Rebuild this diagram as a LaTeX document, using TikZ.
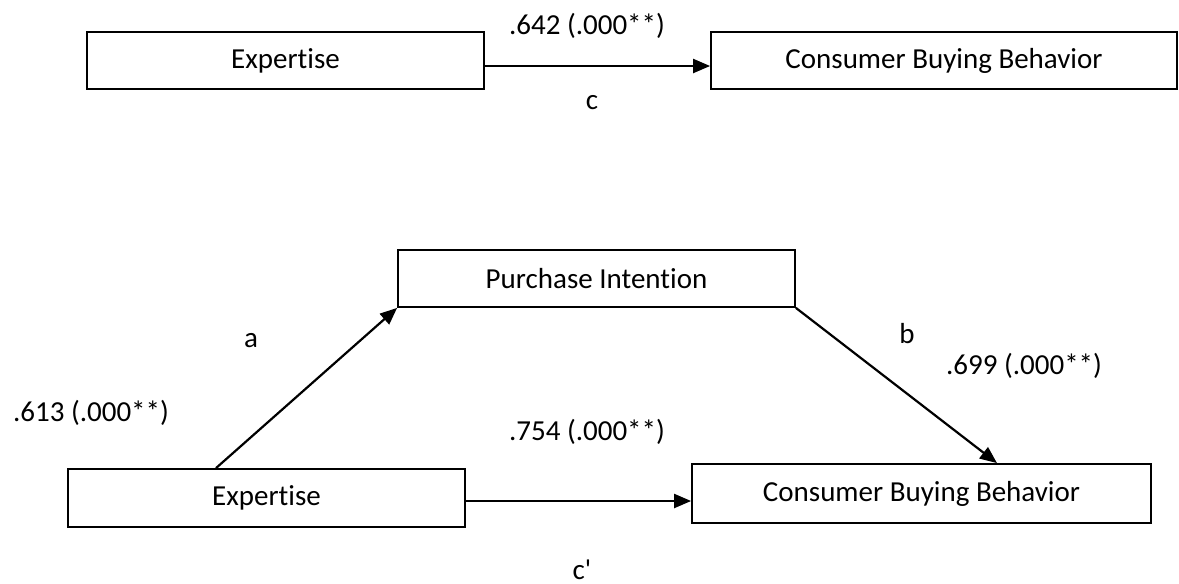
\documentclass[tikz,border=0pt]{standalone}
\usepackage{fontspec}
\setmainfont{Carlito}[Ligatures={TeXOff,NoCommon}]
\usetikzlibrary{arrows.meta}
\begin{document}
\begin{tikzpicture}[x=0.5pt,y=-0.5pt,
  box/.style={draw,line width=0.9pt,inner sep=0pt,font=\fontsize{14.5}{17}\selectfont},
  lab/.style={inner sep=0pt,font=\fontsize{14.5}{17}\selectfont},
  link/.style={line width=1.1pt,-{Triangle[length=8.5pt,width=7pt]}}]
\useasboundingbox (0,0) rectangle (1179,584);

% total effect
\node[box,minimum width=198.5pt,minimum height=28.5pt] (e1) at (285.5,60.5) {Expertise};
\node[box,minimum width=233pt,minimum height=28.5pt] (c1) at (944,60.5) {Consumer Buying Behavior};
\draw[link] ([yshift=-2.75pt]e1.east) -- ([yshift=-2.75pt]c1.west);
\node[lab] (l642) at (587,26) {.642 (.000**)};
\node[lab] (lc) at (592,103) {c};

% mediation model
\node[box,minimum width=198.5pt,minimum height=28.5pt] (pi) at (596.5,278.5) {Purchase Intention};
\node[box,minimum width=198.5pt,minimum height=29pt] (e2) at (266.5,498) {Expertise};
\node[box,minimum width=229.5pt,minimum height=29.5pt] (c2) at (921.5,493.5) {Consumer Buying Behavior};

\draw[link] ([xshift=-25.25pt]e2.north) -- (pi.south west);
\draw[link] (pi.south east) -- ([xshift=37.75pt]c2.north);
\coordinate (cpstart) at ([yshift=-1.5pt]e2.east);
\draw[link] (cpstart) -- (cpstart -| c2.west);

\node[lab] (la) at (251,341) {a};
\node[lab] (lb) at (907,334) {b};
\node[lab] (l699) at (1024,366) {.699 (.000**)};
\node[lab] (l613) at (91,413) {.613 (.000**)};
\node[lab] (l754) at (587,432) {.754 (.000**)};
\node[lab] (lcp) at (582,570) {c'};
\end{tikzpicture}
\end{document}
